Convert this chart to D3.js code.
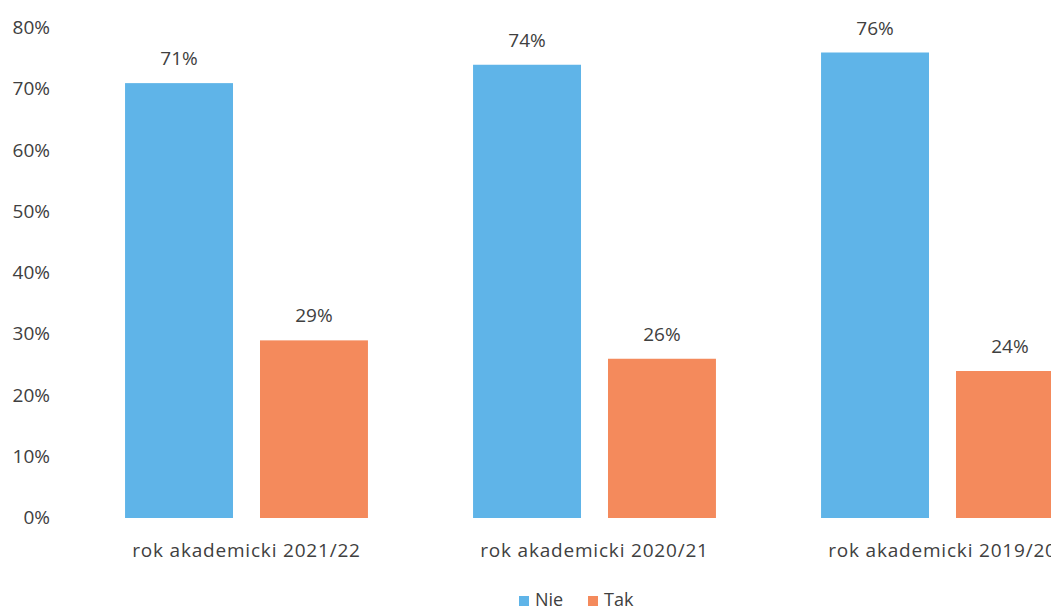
<!DOCTYPE html>
<html>
<head>
<meta charset="utf-8">
<script src="https://cdn.jsdelivr.net/npm/d3@7"></script>
<style>
  body { margin: 0; background: #fff; }
  svg text { font-family: 'Open Sans', sans-serif; fill: #404040; }
</style>
</head>
<body>
<div id="chart"></div>
<script>
const years = ['rok akademicki 2021/22', 'rok akademicki 2020/21', 'rok akademicki 2019/20']
const seriesNames = ['Nie', 'Tak']
const nieValues = [71, 74, 76]
const takValues = [29, 26, 24]
const yTicks = [0, 10, 20, 30, 40, 50, 60, 70, 80]
const colors = ['#5fb4e8', '#f48a5c']

const width = 1051
const height = 610
const margin = { top: 28, bottom: 92 }
const fontSize = 19

const svg = d3
  .select('#chart')
  .append('svg')
  .attr('width', width)
  .attr('height', height)

const yScale = d3
  .scaleLinear()
  .domain([0, 80])
  .range([height - margin.bottom, margin.top])

const x0 = d3
  .scaleBand()
  .domain(years)
  .range([72.5, 72.5 + 3 * 348])
  .paddingInner(0.302)
  .paddingOuter(0.151)

const x1 = d3
  .scaleBand()
  .domain(seriesNames)
  .range([0, x0.bandwidth()])
  .paddingInner(0.2)

const color = d3.scaleOrdinal().domain(seriesNames).range(colors)

const rows = years.map((y, i) => ({
  year: y,
  values: [
    { name: 'Nie', value: nieValues[i] },
    { name: 'Tak', value: takValues[i] }
  ]
}))

// y axis, labels only
const yAxis = d3
  .axisLeft(yScale)
  .tickValues(yTicks)
  .tickFormat(d => d + '%')
  .tickSize(0)
  .tickPadding(0)
svg
  .append('g')
  .attr('class', 'axis y-axis')
  .attr('transform', 'translate(50,0)')
  .call(yAxis)
svg.selectAll('.y-axis path').remove()
svg
  .selectAll('.y-axis text')
  .attr('font-size', fontSize)
  .attr('font-family', null)
  .attr('dy', '0.3em')

const groups = svg
  .selectAll('.group')
  .data(rows)
  .enter()
  .append('g')
  .attr('class', 'group')
  .attr('transform', d => 'translate(' + x0(d.year) + ',0)')

groups
  .selectAll('rect')
  .data(d => d.values)
  .enter()
  .append('rect')
  .attr('x', d => x1(d.name))
  .attr('y', d => yScale(d.value))
  .attr('width', x1.bandwidth())
  .attr('height', d => yScale(0) - yScale(d.value))
  .attr('fill', d => color(d.name))

groups
  .selectAll('.value-label')
  .data(d => d.values)
  .enter()
  .append('text')
  .attr('class', 'value-label')
  .attr('x', d => x1(d.name) + x1.bandwidth() / 2)
  .attr('y', d => yScale(d.value) - 18)
  .attr('text-anchor', 'middle')
  .attr('font-size', fontSize)
  .text(d => d.value + '%')

// category axis
const xAxis = d3.axisBottom(x0).tickSize(0).tickPadding(0)
svg
  .append('g')
  .attr('class', 'axis x-axis')
  .attr('transform', 'translate(0,' + (yScale(0) + 39) + ')')
  .call(xAxis)
svg.selectAll('.x-axis path').remove()
svg
  .selectAll('.x-axis text')
  .attr('font-size', fontSize)
  .attr('font-family', null)
  .attr('letter-spacing', 0.8)
  .attr('dy', 0)

// legend
const legend = svg
  .append('g')
  .attr('class', 'legend')
  .attr('transform', 'translate(519,596)')

const legendItems = legend
  .selectAll('g')
  .data(seriesNames)
  .enter()
  .append('g')
  .attr('transform', (d, i) => 'translate(' + i * 69 + ',0)')

legendItems
  .append('rect')
  .attr('width', 10)
  .attr('height', 10)
  .attr('fill', d => color(d))

legendItems
  .append('text')
  .attr('x', 16)
  .attr('y', 10)
  .attr('font-size', 18)
  .text(d => d)
</script>
</body>
</html>
